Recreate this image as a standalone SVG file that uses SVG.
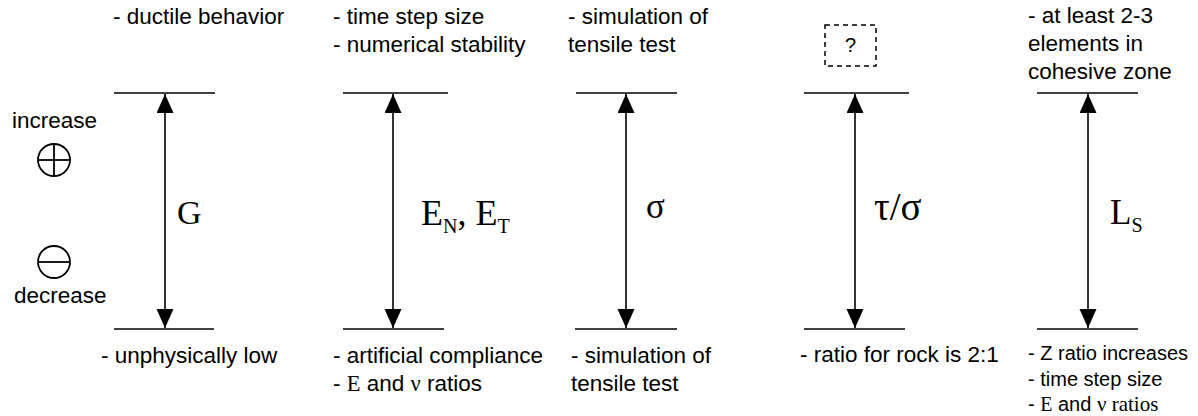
<svg xmlns="http://www.w3.org/2000/svg" width="1198" height="416" viewBox="0 0 1198 416">
<style>
.t{font-family:"Liberation Sans",Arial,sans-serif;font-size:22.5px;fill:#000}
.s{font-family:"Liberation Sans",Arial,sans-serif;font-size:20px;fill:#000}
.m{font-family:"Liberation Serif","Times New Roman",serif;fill:#000}
.bar{stroke:#000;stroke-width:1.5;fill:none}
.arr{stroke:#000;stroke-width:1.6;fill:none;marker-start:url(#ah);marker-end:url(#ah)}
.sym{stroke:#000;stroke-width:1.8;fill:none}
</style>
<defs>
<marker id="ah" markerUnits="userSpaceOnUse" markerWidth="20" markerHeight="18" refX="19" refY="8.5" orient="auto-start-reverse">
<path d="M0,0 L19,8.5 L0,17 z" fill="#000"/>
</marker>
</defs>
<rect width="1198" height="416" fill="#fff"/>

<g id="legend">
<text class="t" x="12" y="128">increase</text>
<circle class="sym" cx="54" cy="160" r="16"/>
<line class="sym" x1="38" y1="160" x2="70" y2="160"/>
<line class="sym" x1="54" y1="144" x2="54" y2="176"/>
<circle class="sym" cx="54" cy="262" r="16"/>
<line class="sym" x1="38" y1="262" x2="70" y2="262"/>
<text class="t" x="14" y="303">decrease</text>
</g>

<g id="node-G">
<line class="bar" x1="114" y1="93" x2="215" y2="93"/>
<line class="bar" x1="114" y1="329" x2="214" y2="329"/>
<text class="t" x="113" y="24">- ductile behavior</text>
<text class="m" x="177" y="224" font-size="34">G</text>
<text class="t" x="101" y="363">- unphysically low</text>
</g>

<g id="node-E">
<line class="bar" x1="343" y1="93" x2="448" y2="93"/>
<line class="bar" x1="343" y1="329" x2="444" y2="329"/>
<text class="t" x="333" y="24">- time step size</text>
<text class="t" x="333" y="52">- numerical stability</text>
<text class="m" x="421" y="225" font-size="36">E<tspan font-size="20" dy="8">N</tspan><tspan dy="-8">, E</tspan><tspan font-size="20" dy="8">T</tspan></text>
<text class="t" x="333" y="363">- artificial compliance</text>
<text class="t" x="333" y="391">- <tspan class="m">E</tspan> and <tspan class="m">ν</tspan> ratios</text>
</g>

<g id="node-sigma">
<line class="bar" x1="576" y1="93" x2="677" y2="93"/>
<line class="bar" x1="575" y1="329" x2="677" y2="329"/>
<text class="t" x="568" y="24">- simulation of</text>
<text class="t" x="568" y="52">tensile test</text>
<text class="m" x="646" y="218" font-size="35">σ</text>
<text class="t" x="571" y="363">- simulation of</text>
<text class="t" x="571" y="391">tensile test</text>
</g>

<g id="node-ratio">
<rect x="825" y="25" width="51" height="41" fill="none" stroke="#000" stroke-width="1.5" stroke-dasharray="5,4"/>
<text class="s" x="850.5" y="52" text-anchor="middle">?</text>
<line class="bar" x1="804" y1="93" x2="909" y2="93"/>
<line class="bar" x1="804" y1="329" x2="905" y2="329"/>
<text class="m" x="874" y="220" font-size="39">τ/σ</text>
<text class="t" x="800" y="362">- ratio for rock is 2:1</text>
</g>

<g id="node-L">
<line class="bar" x1="1037" y1="93" x2="1138" y2="93"/>
<line class="bar" x1="1037" y1="329" x2="1138" y2="329"/>
<text class="t" x="1028" y="23">- at least 2-3</text>
<text class="t" x="1028" y="51">elements in</text>
<text class="t" x="1028" y="79">cohesive zone</text>
<text class="m" x="1110" y="224" font-size="35">L<tspan font-size="20" dy="8">S</tspan></text>
<text class="s" x="1028" y="360">- Z ratio increases</text>
<text class="s" x="1028" y="386">- time step size</text>
<text class="s" x="1028" y="411">- <tspan class="m">E</tspan> and <tspan class="m" font-size="21">ν ratios</tspan></text>
</g>

<g id="connectors">
<line class="arr" x1="165" y1="94" x2="165" y2="328"/>
<line class="arr" x1="393" y1="94" x2="393" y2="328"/>
<line class="arr" x1="626" y1="94" x2="626" y2="328"/>
<line class="arr" x1="855" y1="94" x2="855" y2="328"/>
<line class="arr" x1="1088" y1="94" x2="1088" y2="328"/>
</g>
</svg>
